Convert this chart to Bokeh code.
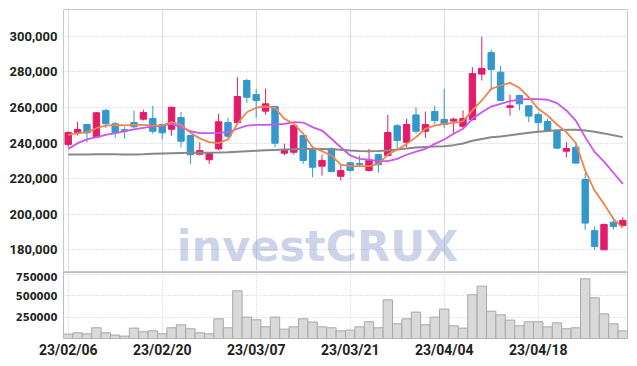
from bokeh.plotting import figure
from bokeh.layouts import column
from bokeh.models import Range1d, FixedTicker, NumeralTickFormatter, Grid
from bokeh.core.properties import value
from bokeh.embed import file_html
from bokeh.resources import INLINE

dates = ["23/02/06", "23/02/07", "23/02/08", "23/02/09", "23/02/10", "23/02/13", "23/02/14", "23/02/15",
         "23/02/16", "23/02/17", "23/02/20", "23/02/21", "23/02/22", "23/02/23", "23/02/24", "23/02/27",
         "23/02/28", "23/03/02", "23/03/03", "23/03/06", "23/03/07", "23/03/08", "23/03/09", "23/03/10",
         "23/03/13", "23/03/14", "23/03/15", "23/03/16", "23/03/17", "23/03/20", "23/03/21", "23/03/22",
         "23/03/23", "23/03/24", "23/03/27", "23/03/28", "23/03/29", "23/03/30", "23/03/31", "23/04/03",
         "23/04/04", "23/04/05", "23/04/06", "23/04/07", "23/04/10", "23/04/11", "23/04/12", "23/04/13",
         "23/04/14", "23/04/17", "23/04/18", "23/04/19", "23/04/20", "23/04/21", "23/04/24", "23/04/25",
         "23/04/26", "23/04/27", "23/04/28", "23/05/02"]

opens = [239200, 245900, 250400, 243300, 258300, 250800, 247500, 251500, 253400, 253800,
         250400, 247700, 254300, 244200, 233700, 230600, 236700, 251500, 251500, 275100,
         267200, 257900, 260500, 234300, 234800, 244200, 236700, 227000, 236900, 221300,
         228900, 228500, 224600, 233500, 233000, 249700, 240400, 255800, 246600, 257700,
         253200, 252300, 249400, 253200, 278700, 290800, 279800, 260000, 266700, 260900,
         256000, 252100, 247000, 235400, 237600, 219500, 190800, 180000, 195500, 193700]
highs = [246400, 251900, 250500, 257200, 259200, 251900, 248900, 258300, 258700, 260900,
         251000, 260300, 257500, 244600, 240500, 234500, 256400, 254200, 277000, 276000,
         270200, 270500, 261000, 239600, 250200, 244500, 237000, 233500, 237500, 228300,
         229000, 233000, 236700, 233800, 255800, 250800, 253600, 260100, 257700, 260900,
         270400, 254200, 258300, 282600, 299800, 292500, 283400, 267100, 267200, 261200,
         257000, 253600, 247500, 240500, 239000, 223300, 193100, 194800, 198300, 198300]
lows = [237600, 244200, 240300, 243000, 248300, 242900, 242400, 248000, 252600, 245200,
        242100, 244000, 237500, 228300, 233000, 228300, 236000, 242900, 251000, 262600,
        254200, 255800, 237500, 233000, 233500, 228300, 220800, 221700, 223500, 218900,
        223800, 226400, 224000, 223300, 232500, 235800, 237600, 245300, 242900, 250400,
        248300, 245500, 248000, 252500, 275100, 269500, 263500, 255400, 258300, 251700,
        246100, 246600, 236800, 232000, 228300, 191200, 180000, 180000, 191400, 193500]
closes = [245900, 247600, 245700, 257000, 250800, 245700, 246900, 249100, 257100, 246600,
          245700, 260100, 241000, 233400, 235800, 234100, 251900, 243800, 266100, 265700,
          263900, 262000, 239900, 235800, 249800, 230200, 226400, 230200, 224000, 224500,
          224600, 228000, 230200, 227800, 245900, 241400, 250400, 246600, 250400, 252600,
          250400, 253400, 253800, 279000, 281900, 281300, 263900, 260900, 262000, 255100,
          251500, 247000, 237100, 236900, 228700, 195000, 181900, 194200, 193100, 196500]
volumes = [52000, 67000, 55000, 126000, 67000, 40000, 28000, 122000, 79000, 90000,
           55000, 126000, 161000, 114000, 67000, 55000, 231000, 126000, 560000, 251000,
           220000, 137000, 251000, 110000, 137000, 231000, 193000, 137000, 126000, 90000,
           98000, 137000, 196000, 126000, 454000, 173000, 231000, 310000, 161000, 251000,
           345000, 149000, 122000, 513000, 615000, 321000, 278000, 216000, 149000, 196000,
           196000, 137000, 184000, 114000, 126000, 701000, 478000, 290000, 173000, 90000]
ma_short = [244500, 245600, 246000, 248300, 249800, 250100, 249900, 250200, 250200, 249800,
            249900, 251700, 250200, 245800, 242600, 240500, 239900, 242000, 250800, 257300,
            259800, 260500, 259800, 253600, 250800, 245200, 237600, 235400, 233000, 227900,
            227000, 227000, 227000, 228300, 233500, 236200, 239500, 243300, 248000, 249800,
            250800, 251300, 252200, 258300, 263900, 270400, 272300, 273800, 271000, 265700,
            259200, 255400, 250400, 246100, 240000, 224500, 213300, 205800, 197400, 192400]
ma_mid = [236700, 239900, 242000, 243300, 244600, 245500, 246600, 247600, 248500, 249300,
          249800, 250800, 248900, 246600, 245500, 245500, 245700, 246100, 248000, 249800,
          250200, 250200, 250400, 250800, 251700, 251500, 248900, 247000, 242400, 237600,
          233000, 231100, 230600, 229800, 229800, 231100, 233400, 235100, 236700, 239500,
          242000, 245200, 248000, 253600, 257300, 260500, 262000, 263500, 264400, 264800,
          264700, 264300, 262400, 258300, 252600, 243300, 235000, 229500, 223300, 217000]
ma_long = [233500, 233600, 233600, 233700, 233700, 233700, 233600, 233600, 233700, 233900,
           234100, 234300, 234400, 234500, 234500, 234500, 234600, 234800, 235100, 235400,
           235700, 235900, 236100, 236300, 236500, 236600, 236700, 236600, 236500, 236200,
           235800, 235500, 235400, 235500, 235800, 236300, 236900, 237500, 237800, 238000,
           238200, 238800, 239700, 241300, 242300, 243200, 243700, 244300, 245000, 245700,
           246300, 246800, 247100, 247400, 247400, 247000, 246300, 245400, 244300, 243300]

price_ticks = [180000, 200000, 220000, 240000, 260000, 280000, 300000]
volume_ticks = [250000, 500000, 750000]
label_step = 10
watermark = "investCRUX"

UP = "#e31b6b"
DOWN = "#3399cc"
GRID = "#c3c6dc"
LABEL_FONT = "Roboto"

idx = list(range(len(dates)))
tick_idx = idx[::label_step]
colors = [UP if c >= o else DOWN for o, c in zip(opens, closes)]
tops = [max(o, c) for o, c in zip(opens, closes)]
bottoms = [min(o, c) for o, c in zip(opens, closes)]

x_range = Range1d(-0.5, len(dates) - 0.5)


def style_axis(ax, font, size, standoff):
    ax.axis_line_color = None
    ax.major_tick_line_color = None
    ax.minor_tick_line_color = None
    ax.major_tick_out = 0
    ax.major_tick_in = 0
    ax.minor_tick_out = 0
    ax.minor_tick_in = 0
    ax.major_label_standoff = standoff
    ax.major_label_text_font = font
    ax.major_label_text_font_size = size
    ax.major_label_text_font_style = "bold"
    ax.major_label_text_color = "#222222"


p = figure(frame_width=564, frame_height=263, x_range=x_range, y_range=Range1d(167250, 315000),
           output_backend="svg", toolbar_location=None, x_axis_location=None,
           min_border_left=63, min_border_right=5, min_border_top=9, min_border_bottom=0)
p.outline_line_color = "#c8c8c8"
p.yaxis.ticker = FixedTicker(ticks=price_ticks)
p.yaxis.formatter = NumeralTickFormatter(format="0,0")
style_axis(p.yaxis[0], LABEL_FONT, "13px", 6)
p.ygrid.grid_line_color = GRID
p.ygrid.grid_line_dash = "1 2"
p.add_layout(Grid(dimension=0, ticker=FixedTicker(ticks=tick_idx),
                  grid_line_color=GRID, grid_line_dash="1 2"))

# watermark text near the bottom of the price panel
p.text(x=[11.56], y=[182400], text=[watermark], text_font=value("DejaVu Sans"),
       text_font_style="bold", text_font_size="43px", text_color="#8e9bcb",
       text_alpha=0.45, text_baseline="alphabetic", text_align="left")

p.segment(idx, highs, idx, lows, line_color=colors, line_width=1)
p.vbar(x=idx, width=0.68, top=tops, bottom=bottoms, fill_color=colors, line_color=colors)
p.line(idx, ma_long, line_color="#888888", line_width=2)
p.line(idx, ma_mid, line_color="#cc55ee", line_width=1.8)
p.line(idx, ma_short, line_color="#f0844c", line_width=1.8)

v = figure(frame_width=564, frame_height=66, x_range=x_range, y_range=Range1d(0, 775000),
           output_backend="svg", toolbar_location=None,
           min_border_left=63, min_border_right=5, min_border_top=0, min_border_bottom=0)
v.outline_line_color = "#bdbdbd"
v.vbar(x=idx, width=1.0, top=volumes, bottom=0, fill_color="#d9d9d9", line_color="#a8a8a8", line_width=1)
v.yaxis.ticker = FixedTicker(ticks=volume_ticks)
v.yaxis.formatter = NumeralTickFormatter(format="0")
style_axis(v.yaxis[0], "DejaVu Sans", "10px", 6)
v.xaxis.ticker = FixedTicker(ticks=tick_idx)
v.xaxis.major_label_overrides = {i: dates[i] for i in tick_idx}
style_axis(v.xaxis[0], LABEL_FONT, "14px", 3)
v.xgrid.grid_line_color = GRID
v.xgrid.grid_line_dash = "1 2"
v.ygrid.grid_line_color = GRID
v.ygrid.grid_line_dash = "1 2"

layout = column(p, v, spacing=0)
open("out.html", "w").write(file_html(layout, INLINE))
